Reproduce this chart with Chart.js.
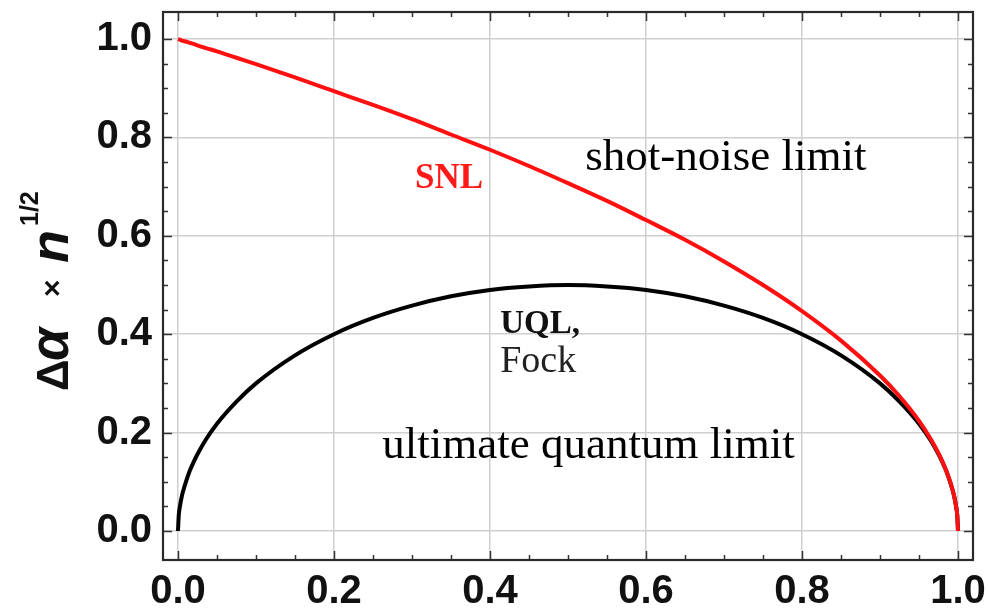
<!DOCTYPE html>
<html>
<head>
<meta charset="utf-8">
<script src="https://cdn.jsdelivr.net/npm/chart.js@4.4.0/dist/chart.umd.min.js"></script>
<style>
  html, body { margin: 0; padding: 0; background: #ffffff; }
  #wrap { width: 988px; height: 614px; position: relative; }
</style>
</head>
<body>
<div id="wrap"><canvas id="c" width="988" height="614"></canvas></div>
<script>
// ---- data ----
const xValues = [0, 0.001, 0.0025, 0.005, 0.0075, 0.01, 0.015, 0.02, 0.025, 0.035, 0.05, 0.075, 0.1,
  0.15, 0.2, 0.25, 0.3, 0.35, 0.4, 0.45, 0.5, 0.55, 0.6, 0.65, 0.7, 0.75, 0.8, 0.85, 0.9,
  0.925, 0.95, 0.965, 0.975, 0.98, 0.985, 0.99, 0.9925, 0.995, 0.9975, 0.999, 1];
const snlValues = [1.0, 0.9995, 0.9987, 0.997, 0.996, 0.995, 0.9925, 0.99, 0.987, 0.982, 0.975, 0.962, 0.949,
  0.922, 0.894, 0.866, 0.837, 0.806, 0.775, 0.742, 0.707, 0.671, 0.632, 0.592, 0.548, 0.5, 0.447, 0.387, 0.316,
  0.274, 0.224, 0.187, 0.158, 0.141, 0.122, 0.1, 0.087, 0.071, 0.05, 0.032, 0];
const uqlValues = [0, 0.032, 0.05, 0.071, 0.086, 0.099, 0.122, 0.14, 0.156, 0.184, 0.218, 0.263, 0.3,
  0.357, 0.4, 0.433, 0.458, 0.477, 0.49, 0.497, 0.5, 0.497, 0.49, 0.477, 0.458, 0.433, 0.4, 0.357, 0.3,
  0.263, 0.218, 0.184, 0.156, 0.14, 0.122, 0.099, 0.086, 0.071, 0.05, 0.032, 0];
const xTickValues = [0, 0.2, 0.4, 0.6, 0.8, 1.0];
const yTickValues = [0, 0.2, 0.4, 0.6, 0.8, 1.0];
const minorStep = 0.05;
const annotations = [
  { text: 'SNL', x: 0.304, y: 0.697, font: 'bold 35px "Liberation Serif"', color: '#ff1a1a' },
  { text: 'shot-noise limit', x: 0.522, y: 0.734, font: '45px "Liberation Serif"', color: '#000000' },
  { text: 'UQL,', x: 0.413, y: 0.402, font: 'bold 33px "Liberation Serif"', color: '#111111' },
  { text: 'Fock', x: 0.413, y: 0.323, font: '38px "Liberation Serif"', color: '#222222' },
  { text: 'ultimate quantum limit', x: 0.262, y: 0.148, font: '45px "Liberation Serif"', color: '#000000' }
];

const toPoints = (ys) => xValues.map((x, i) => ({ x: x, y: ys[i] }));

const framePlugin = {
  id: 'frameTicks',
  afterDatasetsDraw(chart) {
    const ctx = chart.ctx;
    const xs = chart.scales.x, ys = chart.scales.y;
    ctx.save();
    ctx.textAlign = 'left';
    ctx.textBaseline = 'alphabetic';
    annotations.forEach(a => {
      ctx.font = a.font;
      ctx.fillStyle = a.color;
      ctx.fillText(a.text, xs.getPixelForValue(a.x), ys.getPixelForValue(a.y));
    });
    ctx.restore();
  },
  afterDraw(chart) {
    const ctx = chart.ctx;
    const a = chart.chartArea;
    const xs = chart.scales.x, ys = chart.scales.y;
    ctx.save();
    ctx.strokeStyle = '#333333';
    ctx.lineWidth = 1.5;
    for (let i = 0; i <= Math.round(1 / minorStep); i++) {
      const v = i * minorStep;
      const major = (i % 4 === 0);
      const len = major ? 9 : 5;
      const px = Math.round(xs.getPixelForValue(v)) + 0.5;
      const py = Math.round(ys.getPixelForValue(v)) + 0.5;
      ctx.beginPath();
      ctx.moveTo(px, a.bottom); ctx.lineTo(px, a.bottom - len);
      ctx.moveTo(px, a.top); ctx.lineTo(px, a.top + len);
      ctx.moveTo(a.left, py); ctx.lineTo(a.left + len, py);
      ctx.moveTo(a.right, py); ctx.lineTo(a.right - len, py);
      ctx.stroke();
    }
    ctx.lineWidth = 2.2;
    ctx.strokeStyle = '#2a2a2a';
    ctx.strokeRect(a.left, a.top, a.right - a.left, a.bottom - a.top);
    ctx.restore();

    // y axis title: Δα × n^{1/2}  (rotated, baseline at x=68, starting at y=392)
    ctx.save();
    ctx.translate(68, 392);
    ctx.rotate(-Math.PI / 2);
    ctx.fillStyle = '#111111';
    ctx.textBaseline = 'alphabetic';
    ctx.textAlign = 'left';
    const part = (t, font, x, dy) => {
      ctx.font = font;
      ctx.fillText(t, x, dy || 0);
    };
    part('Δ', 'bold 44px "Liberation Sans"', 1);
    part('α', 'bold italic 54px "Liberation Sans"', 31);
    part('×', 'bold 30px "Liberation Sans"', 95, -6);
    part('n', 'bold italic 54px "Liberation Sans"', 129);
    part('1/2', 'bold 25px "Liberation Sans"', 166, -30);
    ctx.restore();
  }
};

const bgPlugin = {
  id: 'bg',
  beforeDraw(chart) {
    const ctx = chart.ctx;
    ctx.save();
    ctx.fillStyle = '#ffffff';
    ctx.fillRect(0, 0, chart.width, chart.height);
    ctx.restore();
  }
};

new Chart(document.getElementById('c'), {
  type: 'line',
  data: {
    datasets: [
      {
        label: 'SNL',
        data: toPoints(snlValues),
        borderColor: '#ff1010',
        borderWidth: 4,
        pointRadius: 0,
        cubicInterpolationMode: 'monotone',
        fill: false
      },
      {
        label: 'UQL, Fock',
        data: toPoints(uqlValues),
        borderColor: '#000000',
        borderWidth: 4,
        pointRadius: 0,
        cubicInterpolationMode: 'monotone',
        fill: false
      }
    ]
  },
  options: {
    responsive: false,
    animation: false,
    devicePixelRatio: 1,
    layout: { padding: { top: 12, right: 15, left: 0, bottom: 0 } },
    plugins: { legend: { display: false }, tooltip: { enabled: false } },
    scales: {
      x: {
        type: 'linear',
        min: -0.0192,
        max: 1.0192,
        afterBuildTicks: (s) => { s.ticks = xTickValues.map(v => ({ value: v })); },
        afterFit: (s) => { s.height = 54; s.paddingLeft = 0; s.paddingRight = 0; },
        grid: { color: '#cfcfcf', lineWidth: 1.5, drawTicks: false },
        border: { display: false },
        ticks: {
          padding: 8,
          color: '#111111',
          font: { family: '"Liberation Sans"', weight: 'bold', size: 40 },
          callback: (v) => Number(v).toFixed(1),
          maxRotation: 0,
          autoSkip: false
        }
      },
      y: {
        type: 'linear',
        min: -0.059,
        max: 1.055,
        afterBuildTicks: (s) => { s.ticks = yTickValues.map(v => ({ value: v })); },
        afterFit: (s) => { s.width = 163; s.paddingTop = 0; s.paddingBottom = 0; },
        grid: { color: '#cfcfcf', lineWidth: 1.5, drawTicks: false },
        border: { display: false },
        ticks: {
          padding: 11,
          color: '#111111',
          font: { family: '"Liberation Sans"', weight: 'bold', size: 40 },
          callback: (v) => Number(v).toFixed(1),
          autoSkip: false
        }
      }
    }
  },
  plugins: [bgPlugin, framePlugin]
});
</script>
</body>
</html>
